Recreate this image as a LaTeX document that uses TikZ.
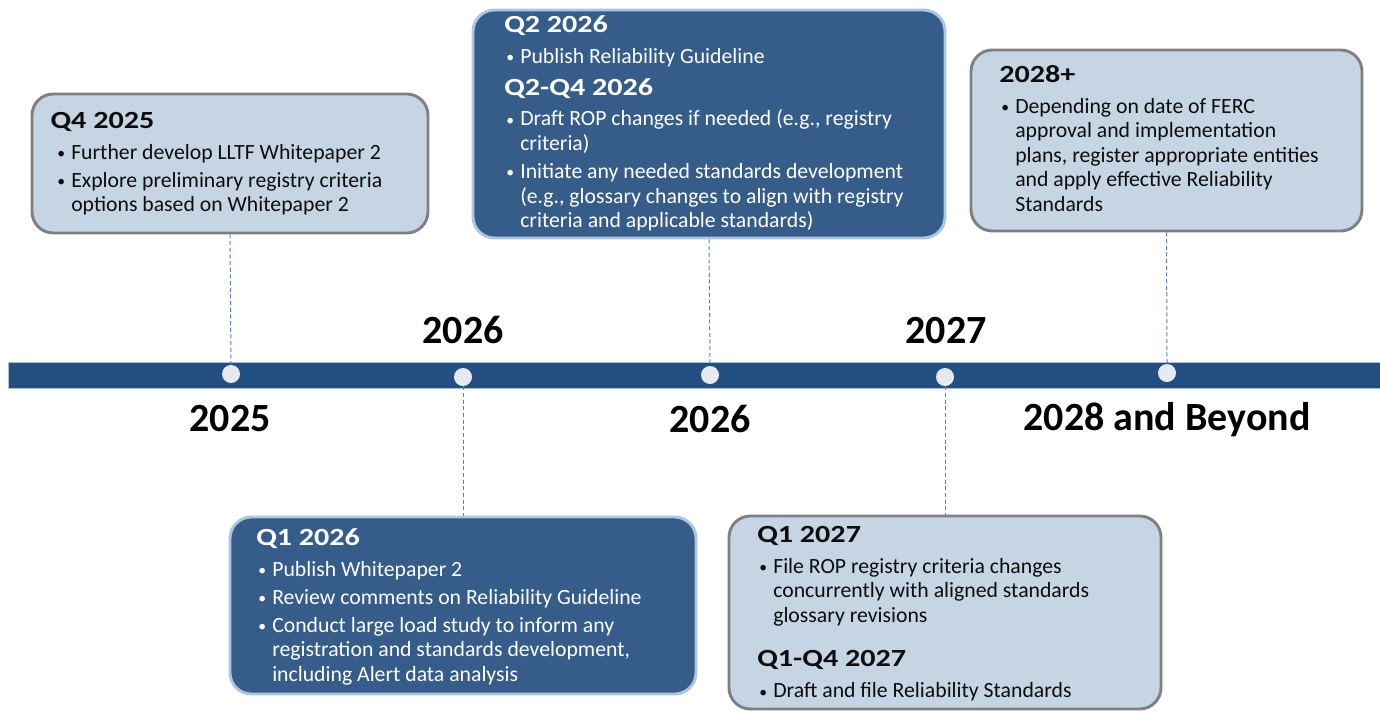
\documentclass[tikz,border=0pt]{standalone}
\usepackage{fontspec}
\setmainfont{Carlito}
\newfontfamily\headfont{Carlito}[FakeStretch=1.22]
\definecolor{barblue}{HTML}{224E80}
\definecolor{barrim}{HTML}{A9BFDA}
\definecolor{dotfill}{HTML}{E4E9F2}
\definecolor{lightfill}{HTML}{C5D5E4}
\definecolor{lightedge}{HTML}{808080}
\definecolor{darkfill}{HTML}{365D8A}
\definecolor{darkedge}{HTML}{A9C6E3}
\definecolor{leadcol}{HTML}{5B80B8}
\definecolor{ink}{HTML}{0D0D0D}
% bullet and hanging indent for the list lines
\newcommand\bul{\makebox[12pt][l]{\hspace{1.5pt}\raisebox{0.6pt}{\scalebox{0.72}{\textbullet}}}}
\newcommand\ind{\hspace*{12pt}}
\newcommand\hd[1]{{\headfont\bfseries\fontsize{18.5}{18.5}\selectfont #1}}
\begin{document}
\begin{tikzpicture}[x=0.75pt,y=-0.75pt,
  lightbox/.style={rounded corners=16pt, fill=lightfill, draw=lightedge, line width=2.2pt, inner sep=0pt},
  darkbox/.style={rounded corners=16pt, fill=darkfill, draw=darkedge, line width=2.2pt, inner sep=0pt},
  dot/.style={circle, fill=dotfill, minimum size=13.5pt, inner sep=0pt},
  leader/.style={draw=leadcol, line width=0.75pt, dash pattern=on 3pt off 2pt},
  yearlbl/.style={font=\fontsize{30}{36}\selectfont\bfseries, text=black, inner sep=0pt, anchor=base},
  boxtext/.style={font=\fontsize{16.3}{18.4}\selectfont, align=left, inner sep=0pt, anchor=north west},
]
\useasboundingbox (0,0) rectangle (1380,711);

% timeline bar
\path[fill=barblue, draw=barrim, line width=0.6pt] (8,362) rectangle (1385,388);

% milestone dots
\node[dot] (d1) at (231,374) {};
\node[dot] (d2) at (463,377) {};
\node[dot] (d3) at (710,375) {};
\node[dot] (d4) at (945,377) {};
\node[dot] (d5) at (1167,373) {};

% year labels
\node[yearlbl] (y1) at (230,431) {2025};
\node[yearlbl] (y2) at (463,343) {2026};
\node[yearlbl] (y3) at (710,432) {2026};
\node[yearlbl] (y4) at (946,343) {2027};
\node[yearlbl] (y5) at (1167,430) {2028 and Beyond};

% callout boxes
\node[lightbox, minimum width=396*0.75pt, minimum height=139*0.75pt] (b1) at (230,163.5) {};
\node[darkbox,  minimum width=472*0.75pt, minimum height=228*0.75pt] (b2) at (709,124) {};
\node[lightbox, minimum width=391*0.75pt, minimum height=181*0.75pt] (b3) at (1166.5,140.5) {};
\node[darkbox,  minimum width=466*0.75pt, minimum height=177*0.75pt] (b4) at (463,605.5) {};
\node[lightbox, minimum width=432*0.75pt, minimum height=193*0.75pt] (b5) at (945,612.5) {};

% leaders from boxes to the timeline
\draw[leader] (b1.south) -- (d1.north);
\draw[leader] (b2.south) -- (d3.north);
\draw[leader] (b3.south) -- (d5.north);
\draw[leader] (d2.south) -- (b4.north);
\draw[leader] (d4.south) -- (b5.north);

% box contents
\node[boxtext, text=ink] (t1) at (55,112) {%
  \hspace*{-3.5pt}\hd{Q4 2025}\\[4.8pt]
  \bul Further develop LLTF Whitepaper 2\\[2.6pt]
  \bul Explore preliminary registry criteria\\
  \ind options based on Whitepaper 2};

\node[boxtext, text=white] (t2) at (504,15) {%
  \hd{Q2 2026}\\[4.8pt]
  \bul Publish Reliability Guideline\\[5.6pt]
  \hd{Q2-Q4 2026}\\[4.8pt]
  \bul Draft ROP changes if needed (e.g., registry\\
  \ind criteria)\\[2.6pt]
  \bul Initiate any needed standards development\\
  \ind (e.g., glossary changes to align with registry\\
  \ind criteria and applicable standards)};

\node[boxtext, text=ink] (t3) at (999,65) {%
  \hd{2028+}\\[4.8pt]
  \bul Depending on date of FERC\\
  \ind approval and implementation\\
  \ind plans, register appropriate entities\\
  \ind and apply effective Reliability\\
  \ind Standards};

\node[boxtext, text=white] (t4) at (256,528) {%
  \hd{Q1 2026}\\[4.8pt]
  \bul Publish Whitepaper 2\\[2.6pt]
  \bul Review comments on Reliability Guideline\\[2.6pt]
  \bul Conduct large load study to inform any\\
  \ind registration and standards development,\\
  \ind including Alert data analysis};

\node[boxtext, text=ink] (t5) at (757,526) {%
  \hd{Q1 2027}\\[4.8pt]
  \bul File ROP registry criteria changes\\
  \ind concurrently with aligned standards\\
  \ind glossary revisions\\[15pt]
  \hd{Q1-Q4 2027}\\[4.8pt]
  \bul Draft and file Reliability Standards};
\end{tikzpicture}
\end{document}
